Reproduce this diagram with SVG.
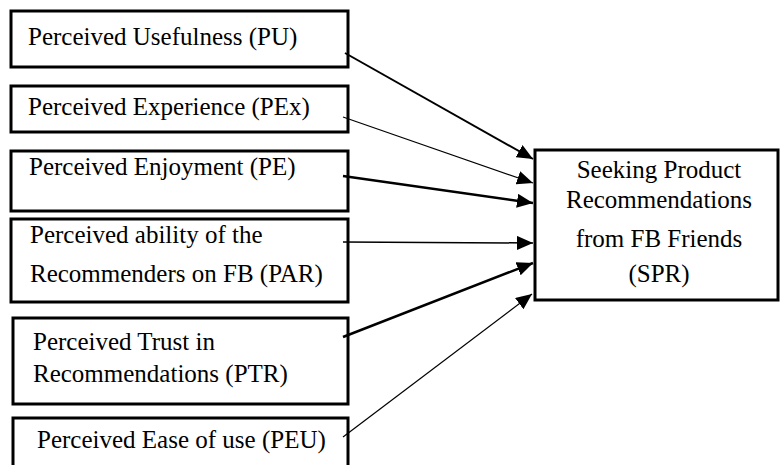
<svg xmlns="http://www.w3.org/2000/svg" width="780" height="465" viewBox="0 0 780 465">
<defs>
<marker id="ah" markerUnits="userSpaceOnUse" markerWidth="16" markerHeight="14" refX="16" refY="7" orient="auto">
<path d="M0,0 L16,7 L0,14 z" fill="#000"/>
</marker>
<style>
.box{fill:#fff;stroke:#000;stroke-width:3}
.t{font-family:"Liberation Serif","Times New Roman",serif;font-size:25px;fill:#000}
.c{text-anchor:middle}
.ln{fill:none;stroke:#000}
</style>
</defs>
<rect width="780" height="465" fill="#fff"/>
<g id="PU">
<rect class="box" x="11" y="11" width="337" height="56"/>
<text class="t" x="28" y="45">Perceived Usefulness (PU)</text>
</g>
<g id="PEx">
<rect class="box" x="11" y="86" width="337" height="46"/>
<text class="t" x="28" y="115">Perceived Experience (PEx)</text>
</g>
<g id="PE">
<rect class="box" x="11" y="151" width="337" height="60"/>
<text class="t" x="29" y="175">Perceived Enjoyment (PE)</text>
</g>
<g id="PAR">
<rect class="box" x="11" y="219" width="337" height="83"/>
<text class="t" x="30" y="243">Perceived ability of the</text>
<text class="t" x="30" y="282">Recommenders on FB (PAR)</text>
</g>
<g id="PTR">
<rect class="box" x="13" y="318" width="335" height="86"/>
<text class="t" x="33" y="350">Perceived Trust in</text>
<text class="t" x="33" y="382">Recommendations (PTR)</text>
</g>
<g id="PEU">
<rect class="box" x="13" y="418" width="335" height="60"/>
<text class="t" x="37" y="448">Perceived Ease of use (PEU)</text>
</g>
<g id="SPR">
<rect class="box" x="535" y="150" width="243" height="150"/>
<text class="t c" x="659" y="178">Seeking Product</text>
<text class="t c" x="659" y="208">Recommendations</text>
<text class="t c" x="659" y="247">from FB Friends</text>
<text class="t c" x="659" y="282">(SPR)</text>
</g>
<g id="connectors">
<line class="ln" x1="345" y1="53" x2="533" y2="159" stroke-width="2" marker-end="url(#ah)"/>
<line class="ln" x1="343" y1="117" x2="533" y2="183" stroke-width="1.2" marker-end="url(#ah)"/>
<line class="ln" x1="343" y1="176" x2="533" y2="203" stroke-width="2.5" marker-end="url(#ah)"/>
<line class="ln" x1="343" y1="242" x2="533" y2="243" stroke-width="1.5" marker-end="url(#ah)"/>
<line class="ln" x1="343" y1="337" x2="533" y2="263" stroke-width="2.5" marker-end="url(#ah)"/>
<line class="ln" x1="343" y1="437" x2="532" y2="294" stroke-width="1.2" marker-end="url(#ah)"/>
</g>
</svg>
